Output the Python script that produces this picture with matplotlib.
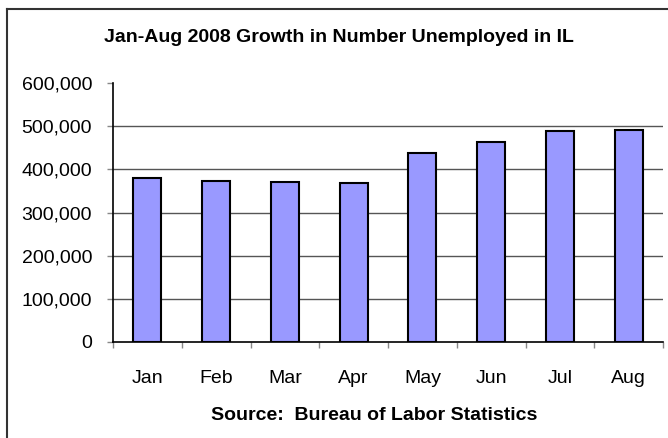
import matplotlib
matplotlib.use("Agg")
import matplotlib.pyplot as plt
from matplotlib.lines import Line2D
from matplotlib.ticker import FuncFormatter

plt.rcParams["font.family"] = ["Liberation Sans", "DejaVu Sans"]

# Illinois unemployed persons, monthly 2008
months = ["Jan", "Feb", "Mar", "Apr", "May", "Jun", "Jul", "Aug"]
unemployed = [380000, 372000, 370000, 369000, 437000, 463000, 489000, 491000]
y_ticks = [0, 100000, 200000, 300000, 400000, 500000, 600000]

W, H = 668, 438
fig = plt.figure(figsize=(W / 100, H / 100), dpi=100)
ax = fig.add_axes([113 / W, 1 - 342 / H, 550 / W, 259 / H])

x = range(len(months))
ax.bar(x, unemployed, width=0.41, color="#9999FF", edgecolor="black",
       linewidth=1.5, zorder=3)

ax.set_xlim(-0.5, len(months) - 0.5)
ax.set_ylim(0, 600000)
ax.set_yticks(y_ticks)
ax.yaxis.set_major_formatter(FuncFormatter(lambda v, _: f"{int(v):,}"))
for v in y_ticks[1:-1]:
    ax.axhline(v, color="#555555", linewidth=1, zorder=1)

ax.set_xticks(list(x))
ax.set_xticklabels(months)
ax.set_xticks([i - 0.5 for i in range(len(months) + 1)], minor=True)
ax.tick_params(axis="x", which="major", length=0, pad=20, labelsize=14)
ax.tick_params(axis="x", which="minor", length=4, color="#888888", width=1)
ax.tick_params(axis="y", length=4, color="#888888", width=1, pad=11,
               labelsize=14)

for side in ("top", "right"):
    ax.spines[side].set_visible(False)
for side in ("left", "bottom"):
    ax.spines[side].set_color("black")
    ax.spines[side].set_linewidth(1.2)

fig.text(339 / W, 1 - 37 / H, "Jan-Aug 2008 Growth in Number Unemployed in IL",
         ha="center", va="center", fontsize=14, fontweight="bold")
fig.text(374 / W, 1 - 415 / H, "Source:  Bureau of Labor Statistics",
         ha="center", va="center", fontsize=14, fontweight="bold")

# outer chart frame (top and left edges)
fig.add_artist(Line2D([7 / W, 1.0], [1 - 9 / H, 1 - 9 / H], color="#333333",
                      linewidth=1.5, transform=fig.transFigure))
fig.add_artist(Line2D([7 / W, 7 / W], [0.0, 1 - 9 / H], color="#333333",
                      linewidth=1.5, transform=fig.transFigure))

fig.savefig("out.png", dpi=100)
